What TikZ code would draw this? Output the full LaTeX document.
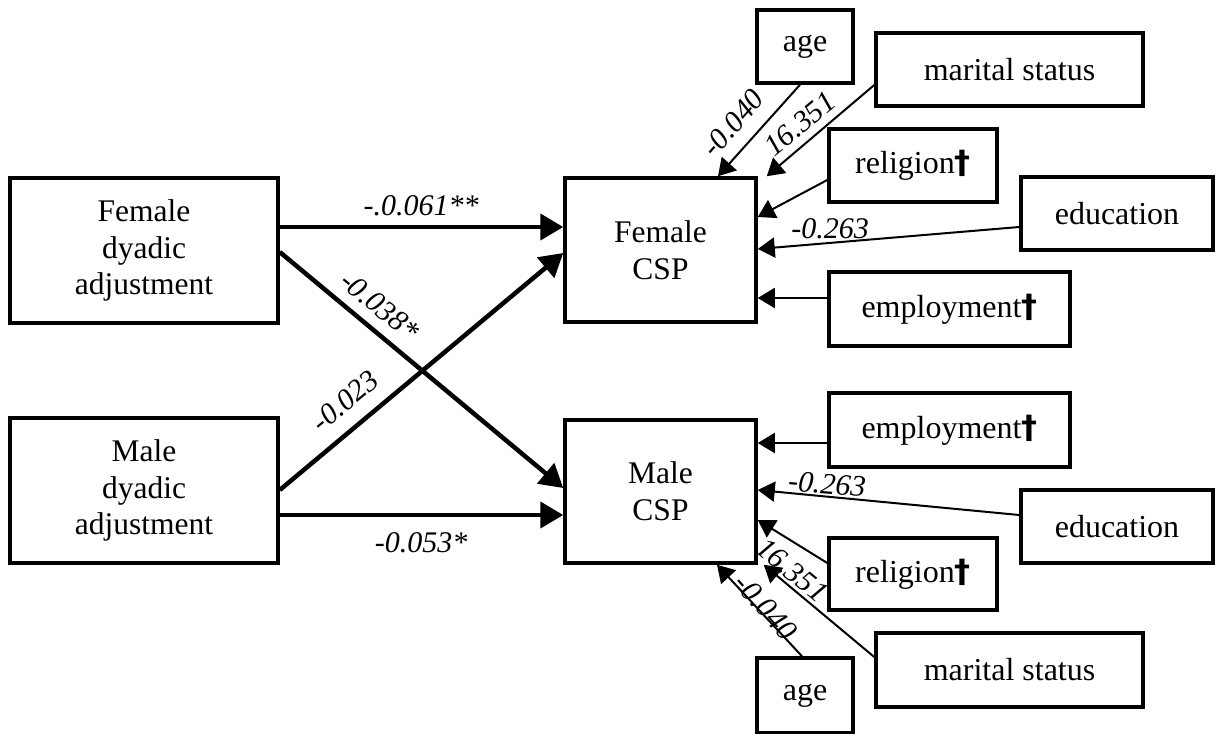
\documentclass[tikz,border=0pt]{standalone}
\usepackage{fontspec}
\setmainfont{Liberation Serif}
\newfontfamily\dagfont{DejaVu Sans}
\usetikzlibrary{arrows.meta}
\newcommand{\dg}{{\dagfont\bfseries †}}
\begin{document}
\begin{tikzpicture}[x=1pt,y=-1pt,
  box/.style={draw, line width=3.5pt, inner sep=0pt, align=center, font=\fontsize{31.5}{36.7}\selectfont},
  cov/.style={draw, line width=3.5pt, inner sep=0pt, font=\fontsize{32}{32}\selectfont},
  mainarr/.style={line width=4.5pt, -{Triangle[length=23pt,width=26pt]}},
  sidearr/.style={line width=2pt, -{Triangle[length=17pt,width=20pt]}},
  lab/.style={font=\fontsize{30}{30}\selectfont\itshape, inner sep=0pt}]
\useasboundingbox (0,0) rectangle (1217,733);
% main boxes
\node[box, minimum width=268pt, minimum height=145pt] (fda) at (144,250.5) {Female\\dyadic\\adjustment};
\node[box, minimum width=268pt, minimum height=145pt] (mda) at (144,490.5) {Male\\dyadic\\adjustment};
\node[box, minimum width=191pt, minimum height=144pt] (fcsp) at (660.5,250) {Female\\CSP};
\node[box, minimum width=191pt, minimum height=143pt] (mcsp) at (660.5,491.5) {Male\\CSP};
% covariates top
\node[cov, minimum width=96pt, minimum height=73pt] (ageT) at (805,46.5) {age};
\node[cov, minimum width=267pt, minimum height=73pt] (marT) at (1009.5,69.5) {marital status};
\node[cov, minimum width=168pt, minimum height=73pt] (relT) at (913,165.5) {religion\dg};
\node[cov, minimum width=192pt, minimum height=73pt] (eduT) at (1117,213.5) {education};
\node[cov, minimum width=241pt, minimum height=74pt] (empT) at (949.5,309) {employment\dg};
% covariates bottom
\node[cov, minimum width=241pt, minimum height=74pt] (empB) at (949.5,430) {employment\dg};
\node[cov, minimum width=192pt, minimum height=73pt] (eduB) at (1117,526.5) {education};
\node[cov, minimum width=168pt, minimum height=72pt] (relB) at (913,574) {religion\dg};
\node[cov, minimum width=267pt, minimum height=74pt] (marB) at (1009.5,670) {marital status};
\node[cov, minimum width=96pt, minimum height=75pt] (ageB) at (805,695.5) {age};
% main arrows
\draw[mainarr] ([yshift=23.5pt]fda.east) -- ([yshift=23pt]fcsp.west);
\draw[mainarr] ([yshift=-24.5pt]mda.east) -- ([yshift=-23.5pt]mcsp.west);
\draw[mainarr] ([yshift=-1.5pt]fda.east) -- ([yshift=3.5pt]mcsp.west);
\draw[mainarr] ([yshift=0.5pt]mda.east) -- ([yshift=-3pt]fcsp.west);
% side arrows top
\draw[sidearr] ([xshift=-5pt]ageT.south) -- ([xshift=57.5pt]fcsp.north);
\draw[sidearr] ([yshift=-15.5pt]marT.west) -- ([xshift=9pt]fcsp.north east);
\draw[sidearr] ([yshift=-14.5pt]relT.west) -- ([yshift=33pt]fcsp.east);
\draw[sidearr] ([yshift=-13.5pt]eduT.west) -- ([yshift=1pt]fcsp.east);
\draw[sidearr] ([yshift=11pt]empT.west) -- ([yshift=-48pt]fcsp.east);
% side arrows bottom
\draw[sidearr] ([yshift=-13pt]empB.west) -- ([yshift=48.5pt]mcsp.east);
\draw[sidearr] ([yshift=11.5pt]eduB.west) -- ([yshift=1.5pt]mcsp.east);
\draw[sidearr] ([yshift=11pt]relB.west) -- ([yshift=-28.5pt]mcsp.east);
\draw[sidearr] ([yshift=13pt]marB.west) -- ([xshift=6pt]mcsp.south east);
\draw[sidearr] ([xshift=-3pt]ageB.north) -- ([xshift=56.5pt]mcsp.south);
% labels
\node[lab] (l1) at (421,206) {-.0.061**};
\node[lab, rotate=-39.4] (l2) at (380,306) {-0.038*};
\node[lab, rotate=39.6] (l3) at (345,401) {-0.023};
\node[lab] (l4) at (421,543) {-0.053*};
\node[lab, rotate=48.9] (l5) at (733,123) {-0.040};
\node[lab, rotate=39.6] (l6) at (800,124) {16.351};
\node[lab] (l7) at (830,229) {-0.263};
\node[lab, rotate=-5] (l8) at (827,484) {-0.263};
\node[lab, rotate=-39.5] (l9) at (792,570) {16.351};
\node[lab, rotate=-48] (l10) at (766,607) {-0.040};
\end{tikzpicture}
\end{document}
